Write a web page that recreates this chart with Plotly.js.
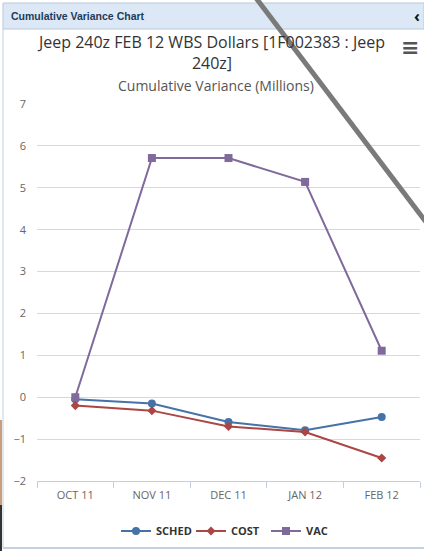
<!DOCTYPE html>
<html>
<head>
<meta charset="utf-8">
<script src="https://cdn.plot.ly/plotly-3.0.1.min.js"></script>
<style>
html,body{margin:0;padding:0;background:#fff;}
#chart{width:424px;height:551px;}
</style>
</head>
<body>
<div id="chart"></div>
<script>
const categories = ['OCT 11', 'NOV 11', 'DEC 11', 'JAN 12', 'FEB 12'];
const schedValues = [-0.05, -0.15, -0.59, -0.79, -0.47];
const costValues = [-0.20, -0.32, -0.70, -0.83, -1.45];
const vacValues = [0.0, 5.71, 5.71, 5.14, 1.11];
const seriesNames = ['SCHED', 'COST', 'VAC'];
const yTicks = [-2, -1, 0, 1, 2, 3, 4, 5, 6, 7];

const W = 424, H = 551;
const M = {l: 37, r: 4, t: 104, b: 70};
const pw = W - M.l - M.r, ph = H - M.t - M.b;
const px = x => (x - M.l) / pw;
const py = y => (H - M.b - y) / ph;

const font = '"Open Sans", "Liberation Sans", sans-serif';

const traces = [
  {name: seriesNames[0], x: categories, y: schedValues, type: 'scatter', mode: 'lines+markers',
   line: {color: '#4572A7', width: 2}, marker: {symbol: 'circle', size: 8, color: '#4572A7'}},
  {name: seriesNames[1], x: categories, y: costValues, type: 'scatter', mode: 'lines+markers',
   line: {color: '#AA4643', width: 2}, marker: {symbol: 'diamond', size: 7, color: '#AA4643'}},
  {name: seriesNames[2], x: categories, y: vacValues, type: 'scatter', mode: 'lines+markers',
   line: {color: '#80699B', width: 2}, marker: {symbol: 'square', size: 8, color: '#80699B'}}
];

const layout = {
  width: W, height: H,
  margin: M,
  paper_bgcolor: '#ffffff',
  plot_bgcolor: '#ffffff',
  showlegend: true,
  hovermode: false,
  font: {family: font, color: '#666666', size: 11},
  title: {
    text: 'Jeep 240z FEB 12 WBS Dollars [1F002383 : Jeep<br>240z]',
    font: {family: font, size: 16, color: '#333333'},
    x: 0.5, xanchor: 'center', xref: 'container',
    y: 1 - 48 / H, yanchor: 'top', yref: 'container'
  },
  xaxis: {
    type: 'category',
    range: [-0.5, 4.5],
    showgrid: false,
    showline: true, linecolor: '#C0D0E0', linewidth: 1,
    ticks: 'outside', tickson: 'boundaries', ticklen: 6, tickcolor: '#C0D0E0',
    ticklabelstandoff: 4,
    tickfont: {family: font, size: 11, color: '#666666'},
    fixedrange: true
  },
  yaxis: {
    range: [-2, 7],
    tickvals: yTicks,
    showgrid: true, gridcolor: '#D8D8D8', gridwidth: 1,
    zeroline: false,
    showline: false,
    ticks: '',
    ticklabelstandoff: 10,
    tickfont: {family: font, size: 11, color: '#666666'},
    fixedrange: true
  },
  legend: {
    orientation: 'h',
    x: 0.5, xanchor: 'center',
    y: py(531), yanchor: 'middle',
    font: {family: font, size: 11, color: '#333333', weight: 'bold'},
    itemwidth: 30,
    entrywidth: 30,
    entrywidthmode: 'pixels',
    tracegroupgap: 0
  },
  annotations: [
    {text: 'Cumulative Variance (Millions)', xref: 'paper', yref: 'paper',
     x: px(216), y: py(85), xanchor: 'center', yanchor: 'middle', showarrow: false,
     font: {family: font, size: 14, color: '#555555'}},
    {text: '<b>Cumulative Variance Chart</b>', xref: 'paper', yref: 'paper',
     x: px(9), y: py(16), xanchor: 'left', yanchor: 'middle', showarrow: false,
     font: {family: '"Liberation Sans", sans-serif', size: 10.5, color: '#1F3B5A'}},
    {text: '<b>‹</b>', xref: 'paper', yref: 'paper',
     x: px(417), y: py(16), xanchor: 'center', yanchor: 'middle', showarrow: false,
     font: {family: font, size: 16, color: '#111111'}},
    {text: '<b>≡</b>', xref: 'paper', yref: 'paper',
     x: px(410), y: py(47), xanchor: 'center', yanchor: 'middle', showarrow: false,
     font: {family: '"DejaVu Sans", sans-serif', size: 22, color: '#555555'}}
  ],
  shapes: [
    {type: 'rect', xref: 'paper', yref: 'paper', x0: px(3), x1: px(424), y0: py(3), y1: py(29),
     fillcolor: '#DCE8F6', line: {color: '#B8C8DA', width: 1}, layer: 'below'},
    {type: 'line', xref: 'paper', yref: 'paper', x0: px(3), x1: px(3), y0: py(29), y1: py(548),
     line: {color: '#C5CFDA', width: 1}},
    {type: 'line', xref: 'paper', yref: 'paper', x0: px(3), x1: px(424), y0: py(548), y1: py(548),
     line: {color: '#C5D2E0', width: 2}},
    {type: 'line', xref: 'paper', yref: 'paper', x0: px(1), x1: px(1), y0: py(420), y1: py(505),
     line: {color: '#C89E7E', width: 2}},
    {type: 'line', xref: 'paper', yref: 'paper', x0: px(1), x1: px(1), y0: py(505), y1: py(551),
     line: {color: '#333333', width: 2}},
    {type: 'line', xref: 'paper', yref: 'paper', x0: px(256), x1: px(426), y0: py(-2), y1: py(222),
     line: {color: '#7A7A7A', width: 5}}
  ]
};

Plotly.newPlot('chart', traces, layout, {displayModeBar: false, staticPlot: true});
</script>
</body>
</html>
